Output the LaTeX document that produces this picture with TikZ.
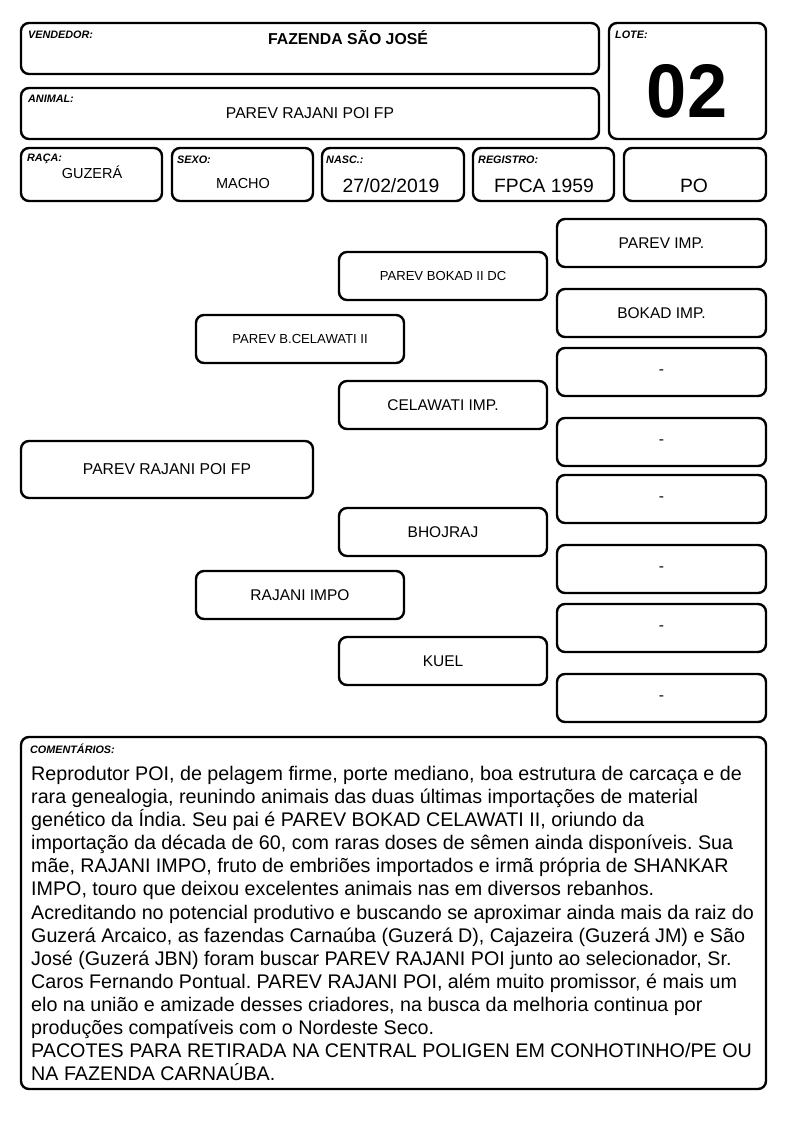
\documentclass[tikz,border=0pt]{standalone}
\usepackage{fontspec}
\setmainfont{Liberation Sans}
\frenchspacing
\begin{document}
\begin{tikzpicture}[x=1pt,y=-1pt,
  box/.style={draw=black, line width=2.4pt, rounded corners=8pt, inner sep=0pt, fill=white},
  lbl/.style={anchor=north west, inner sep=0pt, font=\fontsize{10.8}{11}\selectfont\bfseries\itshape},
  val/.style={inner sep=0pt, font=\fontsize{15.7}{17}\selectfont},
  ped/.style={box, align=center, font=\fontsize{15.5}{17}\selectfont},
  pedsmall/.style={box, align=center, font=\fontsize{13.1}{14}\selectfont}
]
\useasboundingbox[fill=white] (0,0) rectangle (794,1123);

% header boxes
\node[box, minimum width=578, minimum height=51] (vend) at (310,48.5) {};
\node[lbl] (vendl) at (28,31) {VENDEDOR:};
\node[val, font=\fontsize{15.8}{17}\selectfont\bfseries] (vendv) at (348,38) {FAZENDA SÃO JOSÉ};

\node[box, minimum width=157, minimum height=116] (lote) at (687.5,81) {};
\node[lbl] (lotel) at (615,31) {LOTE:};
\node[inner sep=0pt, font=\fontsize{76}{80}\selectfont\bfseries] (lotev) at (687,91) {\scalebox{0.95}[1]{02}};

\node[box, minimum width=578, minimum height=51] (anim) at (310,113.5) {};
\node[lbl] (animl) at (28,95) {ANIMAL:};
\node[val] (animv) at (310,113) {PAREV RAJANI POI FP};

\node[box, minimum width=141, minimum height=53] (raca) at (91.5,174.5) {};
\node[lbl] (racal) at (27,154) {RAÇA:};
\node[val, font=\fontsize{14.5}{16}\selectfont] (racav) at (92,172) {GUZERÁ};

\node[box, minimum width=141, minimum height=53] (sexo) at (242.5,174.5) {};
\node[lbl] (sexol) at (177,156) {SEXO:};
\node[val, font=\fontsize{14.5}{16}\selectfont] (sexov) at (243,184) {MACHO};

\node[box, minimum width=142, minimum height=53] (nasc) at (393,174.5) {};
\node[lbl] (nascl) at (326,156) {NASC.:};
\node[val, font=\fontsize{19.3}{21}\selectfont] (nascv) at (391,186) {27/02/2019};

\node[box, minimum width=141, minimum height=53] (reg) at (543.5,174.5) {};
\node[lbl] (regl) at (478,156) {REGISTRO:};
\node[val, font=\fontsize{19.3}{21}\selectfont] (regv) at (544,186) {FPCA 1959};

\node[box, minimum width=142, minimum height=53] (cat) at (695,174.5) {};
\node[val, font=\fontsize{19.3}{21}\selectfont] (catv) at (694,186) {PO};

% pedigree
\node[ped, minimum width=292, minimum height=57, font=\fontsize{15.7}{17}\selectfont] (an) at (167,469.5) {PAREV RAJANI POI FP};

\node[pedsmall, minimum width=208, minimum height=48] (pai) at (300,339) {PAREV B.CELAWATI II};
\node[ped, minimum width=208, minimum height=48] (mae) at (300,595) {RAJANI IMPO};

\node[pedsmall, minimum width=208, minimum height=48] (avo1) at (443,276) {PAREV BOKAD II DC};
\node[ped, minimum width=208, minimum height=48] (avo2) at (443,405) {CELAWATI IMP.};
\node[ped, minimum width=208, minimum height=48] (avo3) at (443,532) {BHOJRAJ};
\node[ped, minimum width=208, minimum height=48] (avo4) at (443,661) {KUEL};

\node[ped, minimum width=209, minimum height=48] (b1) at (661.5,243) {PAREV IMP.};
\node[ped, minimum width=209, minimum height=48] (b2) at (661.5,313) {BOKAD IMP.};
\node[ped, minimum width=209, minimum height=48] (b3) at (661.5,372) {-};
\node[ped, minimum width=209, minimum height=48] (b4) at (661.5,442) {-};
\node[ped, minimum width=209, minimum height=48] (b5) at (661.5,499) {-};
\node[ped, minimum width=209, minimum height=48] (b6) at (661.5,569) {-};
\node[ped, minimum width=209, minimum height=48] (b7) at (661.5,628) {-};
\node[ped, minimum width=209, minimum height=48] (b8) at (661.5,698) {-};

% comments
\node[box, minimum width=745, minimum height=352] (com) at (393.5,913) {};
\node[lbl] (coml) at (30,744) {COMENTÁRIOS:};
\node[anchor=north west, inner sep=0pt, align=left, font=\fontsize{19.7}{23.1}\selectfont] (comt) at (31,766) {%
Reprodutor POI, de pelagem firme, porte mediano, boa estrutura de carcaça e de\\
rara genealogia, reunindo animais das duas últimas importações de material\\
genético da Índia. Seu pai é PAREV BOKAD CELAWATI II, oriundo da\\
importação da década de 60, com raras doses de sêmen ainda disponíveis. Sua\\
mãe, RAJANI IMPO, fruto de embriões importados e irmã própria de SHANKAR\\
IMPO, touro que deixou excelentes animais nas em diversos rebanhos.\\
Acreditando no potencial produtivo e buscando se aproximar ainda mais da raiz do\\
Guzerá Arcaico, as fazendas Carnaúba (Guzerá D), Cajazeira (Guzerá JM) e São\\
José (Guzerá JBN) foram buscar PAREV RAJANI POI junto ao selecionador, Sr.\\
Caros Fernando Pontual. PAREV RAJANI POI, além muito promissor, é mais um\\
elo na união e amizade desses criadores, na busca da melhoria continua por\\
produções compatíveis com o Nordeste Seco.\\
PACOTES PARA RETIRADA NA CENTRAL POLIGEN EM CONHOTINHO/PE OU\\
NA FAZENDA CARNAÚBA.};
\end{tikzpicture}
\end{document}
